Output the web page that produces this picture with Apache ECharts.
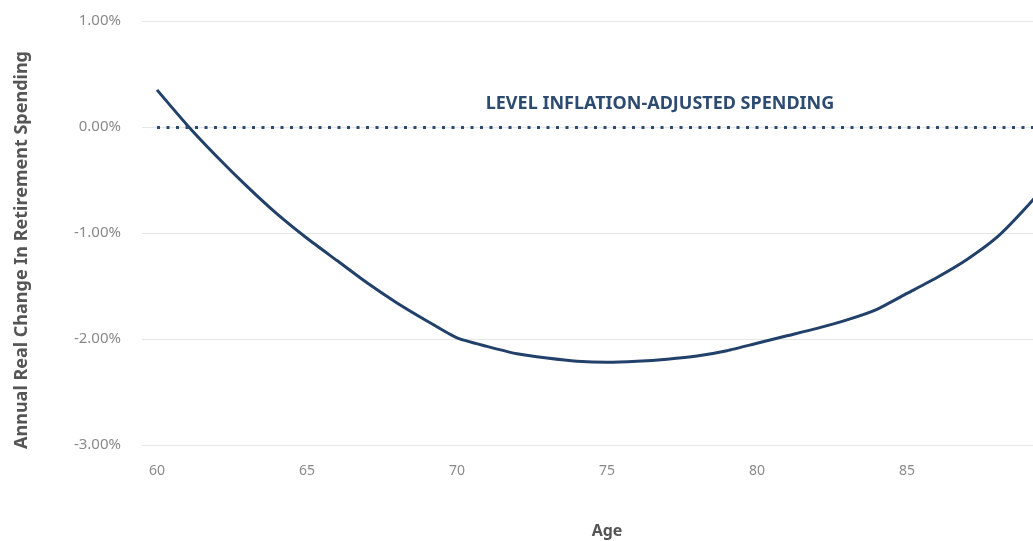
<!DOCTYPE html>
<html>
<head>
<meta charset="utf-8">
<title>Annual Real Change In Retirement Spending by Age</title>
<script src="https://cdn.jsdelivr.net/npm/echarts@6/dist/echarts.min.js"></script>
<style>
  html, body { margin: 0; padding: 0; background: #ffffff; overflow: hidden; }
  #chart { width: 1033px; height: 541px; }
</style>
</head>
<body>
<div id="chart"></div>
<script>
// Ages on the horizontal axis
const ages = ['60','61','62','63','64','65','66','67','68','69','70','71','72','73','74','75',
              '76','77','78','79','80','81','82','83','84','85','86','87','88','89','90'];

// Annual real change in retirement spending (%), one value per age
const spendingChange = [0.35, 0.02, -0.28, -0.56, -0.82, -1.05, -1.26, -1.47, -1.66, -1.83, -1.99,
                        -2.07, -2.14, -2.18, -2.21, -2.22, -2.21, -2.19, -2.16, -2.11, -2.04,
                        -1.97, -1.90, -1.82, -1.72, -1.57, -1.42, -1.25, -1.04, -0.75, -0.42];

// Reference level: flat inflation-adjusted spending
const levelValue = 0;
const levelLabel = 'LEVEL INFLATION-ADJUSTED SPENDING';

const yAxisTitle = 'Annual Real Change In Retirement Spending';
const xAxisTitle = 'Age';

const navy = '#22416a';
const labelFont = '"Noto Sans", "Open Sans", sans-serif';

const chart = echarts.init(document.getElementById('chart'), null, { renderer: 'canvas' });

chart.setOption({
  backgroundColor: '#ffffff',
  animation: false,
  // the plot runs past the right edge, so the last age sits just outside the view
  grid: { left: 142, top: 21, width: 930, height: 424, containLabel: false, outerBoundsMode: 'none' },
  xAxis: {
    type: 'category',
    data: ages,
    boundaryGap: true,
    axisLine: { show: false },
    axisTick: { show: false },
    axisLabel: {
      interval: 4,
      margin: 19,
      color: '#8a8a8a',
      fontSize: 14,
      fontFamily: labelFont
    },
    splitLine: { show: false },
    name: xAxisTitle,
    nameLocation: 'middle',
    nameGap: 78,
    nameTextStyle: { color: '#555555', fontSize: 16, fontWeight: 'bold', fontFamily: labelFont }
  },
  yAxis: {
    type: 'value',
    min: -3,
    max: 1,
    interval: 1,
    axisLine: { show: false },
    axisTick: { show: false },
    axisLabel: {
      margin: 21,
      color: '#8a8a8a',
      fontSize: 15,
      fontFamily: labelFont,
      formatter: v => v.toFixed(2) + '%'
    },
    splitLine: { show: true, lineStyle: { color: '#e6e6e6', width: 1 } }
  },
  graphic: [
    {
      type: 'text',
      x: 22,
      y: 250,
      rotation: Math.PI / 2,
      style: {
        text: yAxisTitle,
        fill: '#555555',
        font: 'bold 18px ' + labelFont,
        textAlign: 'center',
        textVerticalAlign: 'middle'
      }
    },
    {
      type: 'text',
      x: 660,
      y: 104,
      style: {
        text: levelLabel,
        fill: '#2d4b70',
        font: 'bold 18px ' + labelFont,
        textAlign: 'center',
        textVerticalAlign: 'middle'
      }
    }
  ],
  series: [
    {
      type: 'line',
      data: spendingChange,
      symbol: 'none',
      smooth: 0.2,
      lineStyle: { color: navy, width: 3 },
      z: 3,
      markLine: {
        silent: true,
        symbol: 'none',
        label: { show: false },
        lineStyle: { color: '#2d4b70', width: 3, type: [3, 6.5], cap: 'butt' },
        data: [[
          { coord: [ages[0], levelValue] },
          { coord: [ages[ages.length - 1], levelValue] }
        ]]
      }
    }
  ]
});
</script>
</body>
</html>
